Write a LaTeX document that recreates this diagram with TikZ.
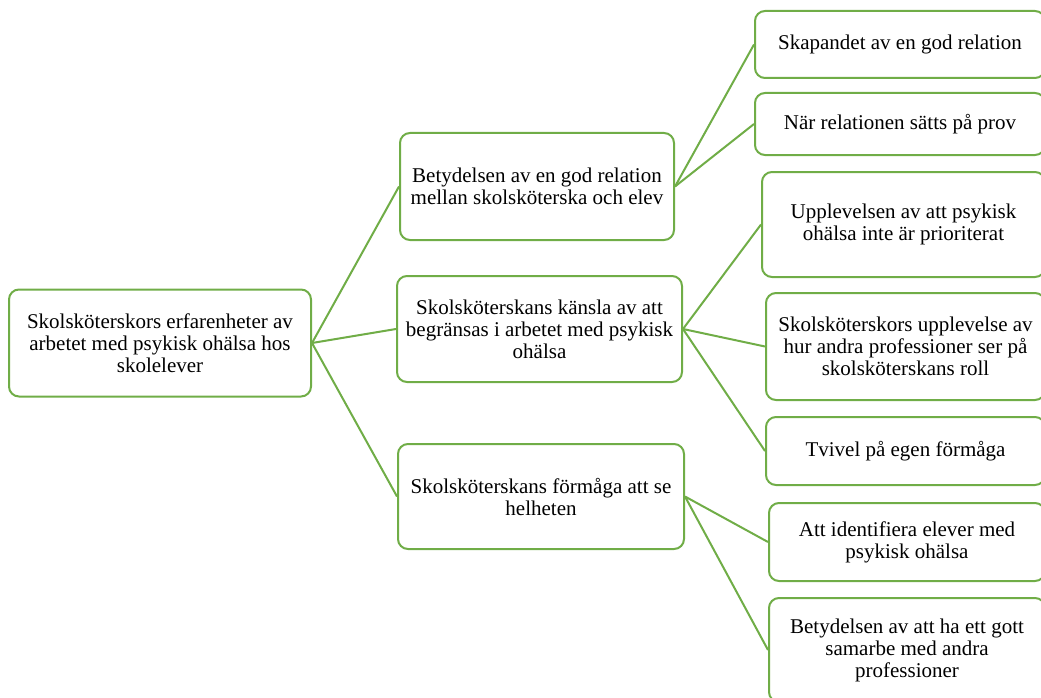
\documentclass[tikz,border=0pt]{standalone}
\usepackage{fontspec}
\setmainfont{Liberation Serif}
\begin{document}
\begin{tikzpicture}[x=1pt,y=1pt,
  box/.style={draw=boxgreen, line width=2pt, rounded corners=10pt, inner sep=0pt,
    align=center, font=\fontsize{21}{22}\selectfont, fill=white},
  link/.style={draw=boxgreen, line width=2pt}]
\definecolor{boxgreen}{HTML}{70AD47}
\useasboundingbox (0,0) rectangle (1041,-698);
% root
\node[box, minimum width=302pt, minimum height=107pt] (root) at (160,-343)
  {Skolsköterskors erfarenheter av\\arbetet med psykisk ohälsa hos\\skolelever};
% level 1
\node[box, minimum width=274pt, minimum height=107pt] (b1) at (537,-186.5)
  {Betydelsen av en god relation\\mellan skolsköterska och elev};
\node[box, minimum width=285pt, minimum height=106pt] (b2) at (539.5,-329)
  {Skolsköterskans känsla av att\\begränsas i arbetet med psykisk\\ohälsa};
\node[box, minimum width=286pt, minimum height=105pt] (b3) at (541,-496.5)
  {Skolsköterskans förmåga att se\\helheten};
% level 2
\node[box, minimum width=290pt, minimum height=67pt] (c1) at (900,-44.5)
  {Skapandet av en god relation};
\node[box, minimum width=290pt, minimum height=62pt] (c2) at (900,-124)
  {När relationen sätts på prov};
\node[box, minimum width=283pt, minimum height=105pt] (c3) at (903.5,-224.5)
  {Upplevelsen av att psykisk\\ohälsa inte är prioriterat};
\node[box, minimum width=279pt, minimum height=107pt] (c4) at (905.5,-346.5)
  {Skolsköterskors upplevelse av\\hur andra professioner ser på\\skolsköterskans roll};
\node[box, minimum width=279pt, minimum height=68pt] (c5) at (905.5,-451)
  {Tvivel på egen förmåga};
\node[box, minimum width=276pt, minimum height=78pt] (c6) at (907,-542)
  {Att identifiera elever med\\psykisk ohälsa};
\node[box, minimum width=276pt, minimum height=104pt] (c7) at (907,-650)
  {Betydelsen av att ha ett gott\\samarbe med andra\\professioner};
% connectors
\draw[link] (root.east) -- (b1.west);
\draw[link] (root.east) -- (b2.west);
\draw[link] (root.east) -- (b3.west);
\draw[link] (b1.east) -- (c1.west);
\draw[link] (b1.east) -- (c2.west);
\draw[link] (b2.east) -- (c3.west);
\draw[link] (b2.east) -- (c4.west);
\draw[link] (b2.east) -- (c5.west);
\draw[link] (b3.east) -- (c6.west);
\draw[link] (b3.east) -- (c7.west);
\end{tikzpicture}
\end{document}
